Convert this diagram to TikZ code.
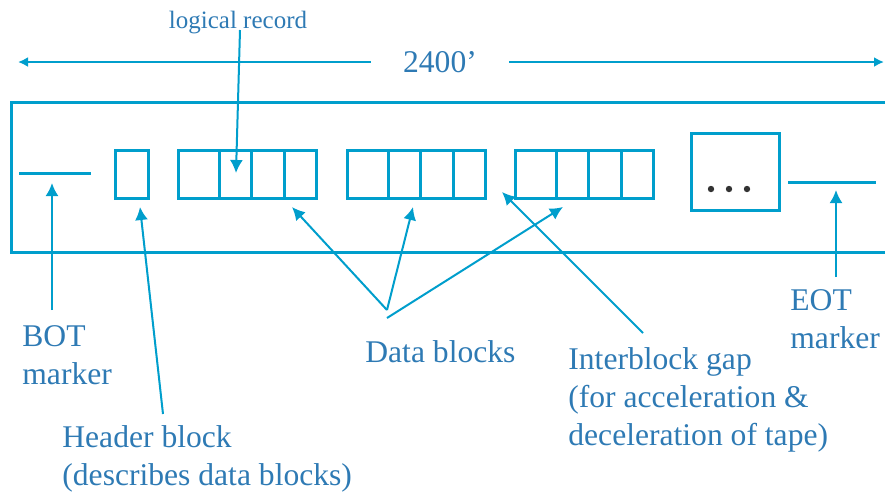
\documentclass[tikz,border=0pt]{standalone}
\usepackage{fontspec}
\setmainfont{Liberation Serif}
\usetikzlibrary{arrows.meta}

\definecolor{tapeblue}{RGB}{0,158,204}
\definecolor{labelblue}{RGB}{46,122,180}

\tikzset{
  tapeline/.style={draw=tapeblue, line width=1.5pt},
  blockbox/.style={tapeline, inner sep=0pt, outer sep=0pt, minimum height=24pt, anchor=north west},
  ptr/.style={draw=tapeblue, line width=1pt, -{Latex[length=6.5pt,width=6.5pt]}},
  dim/.style={draw=tapeblue, line width=1pt, -{Latex[length=5pt,width=5pt]}},
  lbl/.style={text=labelblue, font=\fontsize{15.8}{18.8}\selectfont, inner sep=0pt, align=left, anchor=base west},
}

\begin{document}
\begin{tikzpicture}[x=0.5pt,y=-0.5pt]
\useasboundingbox (0,0) rectangle (885,495);

% tape, running off to the right
\draw[tapeline] (885,102) -- (11,102) -- (11,252) -- (885,252);

% total length
\node[lbl, anchor=center, inner xsep=16pt] (len) at (440,62) {2400’};
\coordinate (lenL) at (18,62);
\coordinate (lenR) at (884,62);
\draw[dim] (len.west) -- (lenL);
\draw[dim] (len.east) -- (lenR);

% markers and blocks
\draw[tapeline] (19,173) -- (91,173);
\draw[tapeline] (788,182) -- (876,182);
\node[blockbox, minimum width=16.5pt] (hdr) at (115,150) {};
\foreach \bx/\nm in {178/dat1,347/dat2,515/dat3}{
  \node[blockbox, minimum width=69pt] (\nm) at (\bx,150) {};
  \foreach \dx in {41,73,106}
    \draw[tapeline] (\bx+\dx,150) -- (\bx+\dx,198);
}
\node[blockbox, minimum width=44pt, minimum height=38.5pt] (more) at (691,133) {};
\foreach \dx in {711,729,747}
  \fill[black!80] (\dx,189) circle (1.6pt);

% labels (multi-line ones sit on their last baseline)
\node[lbl, anchor=base, font=\fontsize{12.5}{15}\selectfont] (reclbl) at (238,28) {logical record};
\node[lbl] (botlbl) at (22,384) {BOT\\marker};
\node[lbl] (hdrlbl) at (62,485) {Header block\\(describes data blocks)};
\node[lbl] (datlbl) at (365,362) {Data blocks};
\node[lbl] (gaplbl) at (568,445) {Interblock gap\\(for acceleration \&\\deceleration of tape)};
\node[lbl] (eotlbl) at (790,348) {EOT\\marker};

% arrow ends
\coordinate (recFoot) at (240,30);  \coordinate (recTip) at (236,173);
\coordinate (botFoot) at (52,310);  \coordinate (botTip) at (52,183);
\coordinate (hdrFoot) at (163,414); \coordinate (hdrTip) at (140,207);
\coordinate (fork) at (387,310);    \coordinate (fork2) at (387,318);
\coordinate (datTip1) at (292,207); \coordinate (datTip2) at (413,207);
\coordinate (datTip3) at (563,207);
\coordinate (gapFoot) at (643,333); \coordinate (gapTip) at (502,192);
\coordinate (eotFoot) at (836,277); \coordinate (eotTip) at (836,190);

\draw[ptr] (recFoot) -- (recTip);
\draw[ptr] (botFoot) -- (botTip);
\draw[ptr] (hdrFoot) -- (hdrTip);
\draw[ptr] (fork) -- (datTip1);
\draw[ptr] (fork) -- (datTip2);
\draw[ptr] (fork2) -- (datTip3);
\draw[ptr] (gapFoot) -- (gapTip);
\draw[ptr] (eotFoot) -- (eotTip);
\end{tikzpicture}
\end{document}
